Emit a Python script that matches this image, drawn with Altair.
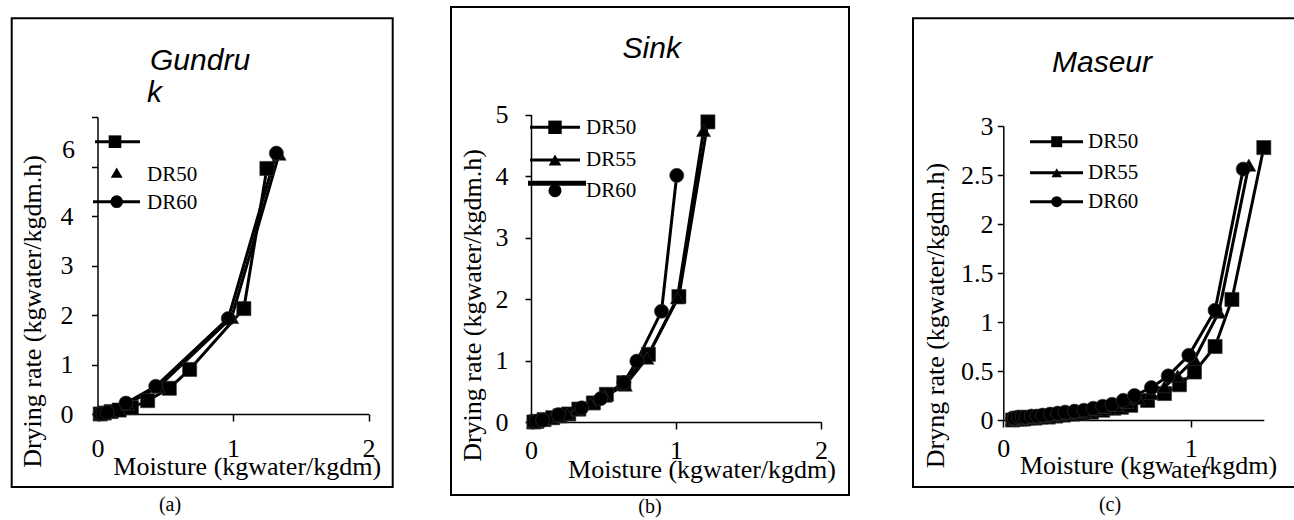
import altair as alt
import pandas as pd

SERIES = ["DR50", "DR55", "DR60"]
SHAPES = ["square", "triangle-up", "circle"]

# ---------------- Panel (a) Gundruk ----------------
A_DR50_X = [0.02, 0.05, 0.10, 0.16, 0.25, 0.37, 0.53, 0.68, 1.08, 1.25]
A_DR50_Y = [0.00, 0.02, 0.05, 0.08, 0.13, 0.27, 0.52, 0.90, 2.13, 4.96]
A_DR55_X = [0.02, 0.04, 0.08, 0.22, 0.45, 0.99, 1.34]
A_DR55_Y = [0.00, 0.01, 0.04, 0.20, 0.55, 1.95, 5.25]
A_DR60_X = [0.02, 0.04, 0.07, 0.21, 0.43, 0.965, 1.32]
A_DR60_Y = [0.00, 0.01, 0.03, 0.22, 0.56, 1.93, 5.27]

# ---------------- Panel (b) Sink ----------------
B_DR50_X = [0.02, 0.04, 0.09, 0.15, 0.20, 0.26, 0.33, 0.43, 0.52, 0.64, 0.81, 1.02, 1.22]
B_DR50_Y = [0.00, 0.01, 0.04, 0.07, 0.10, 0.13, 0.21, 0.31, 0.45, 0.64, 1.10, 2.04, 4.88]
B_DR55_X = [0.02, 0.04, 0.08, 0.14, 0.19, 0.25, 0.32, 0.41, 0.51, 0.65, 0.80, 1.01, 1.19]
B_DR55_Y = [0.00, 0.01, 0.03, 0.06, 0.09, 0.13, 0.20, 0.30, 0.42, 0.60, 1.04, 2.02, 4.74]
B_DR60_X = [0.02, 0.04, 0.08, 0.19, 0.35, 0.48, 0.64, 0.73, 0.90, 1.005]
B_DR60_Y = [0.00, 0.01, 0.03, 0.12, 0.23, 0.38, 0.64, 0.99, 1.80, 4.01]

# ---------------- Panel (c) Maseur ----------------
C_DR50_X = [0.05, 0.07, 0.09, 0.11, 0.14, 0.17, 0.20, 0.24, 0.28, 0.32, 0.37, 0.42,
            0.47, 0.53, 0.59, 0.63, 0.68, 0.77, 0.86, 0.94, 1.02, 1.13, 1.22, 1.39]
C_DR50_Y = [0.00, 0.01, 0.01, 0.01, 0.02, 0.02, 0.03, 0.03, 0.04, 0.05, 0.06, 0.07,
            0.08, 0.10, 0.12, 0.13, 0.15, 0.20, 0.27, 0.36, 0.49, 0.75, 1.23, 2.78]
C_DR55_X = [0.05, 0.07, 0.09, 0.11, 0.13, 0.16, 0.19, 0.22, 0.26, 0.30, 0.34, 0.39,
            0.44, 0.49, 0.54, 0.60, 0.66, 0.72, 0.79, 0.86, 0.93, 1.02, 1.15, 1.31]
C_DR55_Y = [0.01, 0.02, 0.02, 0.02, 0.03, 0.03, 0.04, 0.04, 0.05, 0.06, 0.07, 0.08,
            0.09, 0.11, 0.13, 0.15, 0.18, 0.22, 0.27, 0.34, 0.45, 0.62, 1.10, 2.60]
C_DR60_X = [0.05, 0.06, 0.08, 0.10, 0.12, 0.15, 0.18, 0.21, 0.25, 0.29, 0.33, 0.38,
            0.43, 0.48, 0.53, 0.58, 0.64, 0.70, 0.79, 0.88, 0.99, 1.13, 1.28]
C_DR60_Y = [0.02, 0.02, 0.03, 0.03, 0.03, 0.04, 0.04, 0.05, 0.06, 0.07, 0.08, 0.09,
            0.10, 0.12, 0.14, 0.16, 0.20, 0.25, 0.33, 0.45, 0.66, 1.12, 2.56]

PANEL_TITLES = ["Gundru", "k", "Sink", "Maseur"]
CAPTIONS = ["(a)", "(b)", "(c)"]
X_TITLE = "Moisture (kgwater/kgdm)"
Y_TITLE_AB = "Drying rate (kgwater/kgdm.h)"
Y_TITLE_C = "Dryng rate (kgwater/kgdm.h)"

W, H = 1294, 520
SERIF = "Liberation Serif, Times New Roman, serif"
SANS = "Liberation Sans, Arial, sans-serif"


def series_df(xs_list, ys_list):
    rows = []
    for s, xs, ys in zip(SERIES, xs_list, ys_list):
        for i, (x, y) in enumerate(zip(xs, ys)):
            rows.append({"series": s, "x": x, "y": y, "i": i})
    return pd.DataFrame(rows)


def panel(df, xdom, xrange, xvals, xaxis_y, xlabpad, xtitle, xtitle_x, xtitle_y,
          ydom, yrange, yvals, yaxis_x, ylabpad, ytitle, ytitle_x, ytitle_y,
          ylabel_expr=None):
    xaxis_kw = dict(orient="bottom", offset=xaxis_y - H, values=xvals, grid=False,
                    format="~g",
                    domainColor="black", domainWidth=1.5, tickColor="black",
                    tickWidth=1.5, tickSize=7, labelFont=SERIF, labelFontSize=26,
                    labelColor="black", labelPadding=xlabpad, labelBaseline="alphabetic",
                    labelFlush=False, labelOverlap=False, labelBound=False)
    if xtitle:
        xaxis_kw.update(titleX=xtitle_x, titleY=xtitle_y, titleAlign="center",
                        titleBaseline="alphabetic", titleFont=SERIF, titleFontSize=26,
                        titleFontWeight="normal", titleColor="black", titleAngle=0)
    yaxis_kw = dict(orient="left", offset=-yaxis_x, values=yvals, grid=False,
                    format="~g",
                    domainColor="black", domainWidth=1.5, tickColor="black",
                    tickWidth=1.5, tickSize=6, labelFont=SERIF, labelFontSize=26,
                    labelColor="black", labelPadding=ylabpad, labelAlign="right",
                    labelBaseline="middle", labelFlush=False, labelOverlap=False,
                    labelBound=False,
                    titleX=ytitle_x, titleY=ytitle_y, titleAlign="center",
                    titleBaseline="middle", titleFont=SERIF, titleFontSize=26,
                    titleFontWeight="normal", titleColor="black", titleAngle=270)
    if ylabel_expr:
        yaxis_kw["labelExpr"] = ylabel_expr

    if xtitle:
        xenc = alt.X("x:Q", scale=alt.Scale(domain=xdom, range=xrange, nice=False, zero=False),
                     axis=alt.Axis(**xaxis_kw), title=xtitle)
    else:
        xenc = alt.X("x:Q", scale=alt.Scale(domain=xdom, range=xrange, nice=False, zero=False),
                     axis=alt.Axis(**xaxis_kw), title=None)
    yenc = alt.Y("y:Q", scale=alt.Scale(domain=ydom, range=yrange, nice=False, zero=False),
                 axis=alt.Axis(**yaxis_kw), title=ytitle)

    base = alt.Chart(df)
    lines = base.mark_line(color="black", strokeWidth=3, clip=False).encode(
        x=xenc, y=yenc, detail="series:N", order="i:Q")
    pts = base.mark_point(filled=True, color="black", opacity=1, size=200,
                          stroke="#333333", strokeWidth=0.6, clip=False).encode(
        x=xenc, y=yenc,
        shape=alt.Shape("series:N", scale=alt.Scale(domain=SERIES, range=SHAPES), legend=None))
    return alt.layer(lines, pts)


pa = panel(series_df([A_DR50_X, A_DR55_X, A_DR60_X], [A_DR50_Y, A_DR55_Y, A_DR60_Y]),
           [0, 2], [97.5, 368.5], [0, 1, 2], 414, 35, X_TITLE, 246.7, 60,
           [0, 6], [414, 117], [0, 1, 2, 3, 4, 5, 6], 97.5, 18.5, Y_TITLE_AB, -65.5, 311,
           ylabel_expr="datum.value <= 4 ? datum.label : ''")

pb = panel(series_df([B_DR50_X, B_DR55_X, B_DR60_X], [B_DR50_Y, B_DR55_Y, B_DR60_Y]),
           [0, 2], [531, 821], [0, 1, 2], 422, 29, X_TITLE, 701.5, 55,
           [0, 5], [422, 114.5], [0, 1, 2, 3, 4, 5], 531, 17, Y_TITLE_AB, -59, 305)

pc = panel(series_df([C_DR50_X, C_DR55_X, C_DR60_X], [C_DR50_Y, C_DR55_Y, C_DR60_Y]),
           [0, 1.39], [1003.3, 1263.8], [0, 1], 420, 29.7, None, 0, 0,
           [0, 3], [420, 126], [0, 0.5, 1, 1.5, 2, 2.5, 3], 1003.3, 4.3, Y_TITLE_C, -68.3, 315)

# ---------------- decorations (pixel positioned) ----------------
borders = pd.DataFrame({
    "x": [11.7, 451, 913], "x2": [392.7, 849, 1300],
    "y": [18.3, 7, 18.3], "y2": [487, 495, 487]})

leg_lines = pd.DataFrame({
    "x": [95, 93, 530, 530, 528, 1030, 1030, 1030],
    "x2": [140, 140, 580, 580, 586, 1083, 1083, 1083],
    "y": [141.7, 201.7, 127.3, 160, 183.3, 141.7, 172.7, 201.7],
    "w": [3, 3, 3, 3, 5, 3, 3, 3]})

leg_pts = pd.DataFrame({
    "x": [115, 116.7, 116.7, 555, 555, 555, 1056.7, 1056.7, 1056.7],
    "y": [141.7, 172.7, 201.7, 127.3, 160, 190.7, 141.7, 172.7, 201.7],
    "shape": SHAPES * 3,
    "s": [160, 140, 160, 180, 160, 170, 120, 110, 120]})

leg_text = pd.DataFrame({
    "x": [147, 147, 586, 586, 586, 1088, 1088, 1088],
    "y": [174.5, 203, 128.3, 160, 191, 142, 173, 202],
    "t": ["DR50", "DR60", "DR50", "DR55", "DR60", "DR50", "DR55", "DR60"]})

cap_text = pd.DataFrame({"x": [170, 650, 1110], "y": [505, 507, 505], "t": CAPTIONS})
six_text = pd.DataFrame({"x": [75], "y": [150], "t": ["6"]})
xt_pieces = pd.DataFrame({"x": [1020, 1171, 1202], "y": [474, 478, 474],
                          "t": ["Moisture (kgw", "ater", "/kgdm)"]})
title_left = pd.DataFrame({"x": [150, 147], "y": [70, 101.7], "t": PANEL_TITLES[:2]})
title_center = pd.DataFrame({"x": [651.7, 1102], "y": [58.3, 72], "t": PANEL_TITLES[2:]})


def px(field):
    return alt.X(field, scale=None, axis=None)


def py(field):
    return alt.Y(field, scale=None, axis=None)


border_layer = alt.Chart(borders).mark_rect(fill=None, stroke="black", strokeWidth=2,
                                            clip=False).encode(
    x=px("x:Q"), x2="x2:Q", y=py("y:Q"), y2="y2:Q")

legline_layer = alt.Chart(leg_lines).mark_rule(color="black", clip=False).encode(
    x=px("x:Q"), x2="x2:Q", y=py("y:Q"),
    strokeWidth=alt.StrokeWidth("w:Q", scale=None, legend=None))

legpt_layer = alt.Chart(leg_pts).mark_point(filled=True, color="black", opacity=1,
                                            clip=False).encode(
    x=px("x:Q"), y=py("y:Q"),
    shape=alt.Shape("shape:N", scale=None, legend=None),
    size=alt.Size("s:Q", scale=None, legend=None))


def text_layer(df, font, size, align, baseline, italic=False):
    kw = dict(font=font, fontSize=size, align=align, baseline=baseline,
              color="black", clip=False)
    if italic:
        kw["fontStyle"] = "italic"
    return alt.Chart(df).mark_text(**kw).encode(x=px("x:Q"), y=py("y:Q"), text="t:N")


decor = alt.layer(
    border_layer, legline_layer, legpt_layer,
    text_layer(leg_text, SERIF, 21, "left", "middle"),
    text_layer(cap_text, SERIF, 20, "center", "middle"),
    text_layer(six_text, SERIF, 26, "right", "middle"),
    text_layer(xt_pieces, SERIF, 26, "left", "alphabetic"),
    text_layer(title_left, SANS, 30, "left", "alphabetic", italic=True),
    text_layer(title_center, SANS, 30, "center", "alphabetic", italic=True),
)

chart = alt.layer(pa, pb, pc, decor).resolve_scale(
    x="independent", y="independent", shape="independent"
).resolve_axis(x="independent", y="independent").properties(
    width=W, height=H, autosize=alt.AutoSizeParams(type="none"), padding=0,
    background="white"
).configure_view(stroke=None)

chart.save("out.html", embed_options={"renderer": "svg", "actions": False})
